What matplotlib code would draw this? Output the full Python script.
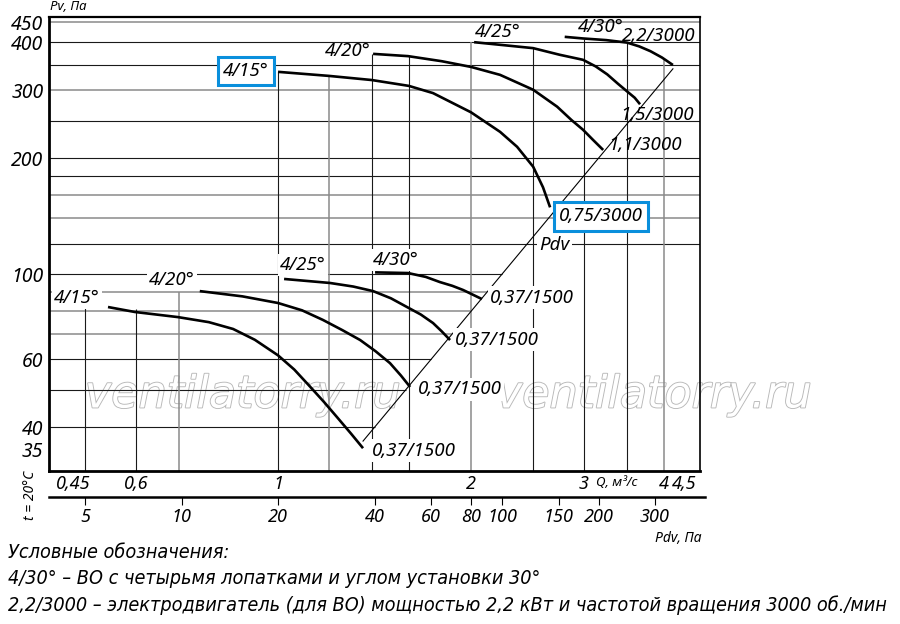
import numpy as np
import matplotlib
matplotlib.use('Agg')
import matplotlib.pyplot as plt
from matplotlib import patheffects as pe

# ---------------- data ----------------
angles = ['4/15°', '4/20°', '4/25°', '4/30°']
motors_3000 = ['0,75/3000', '1,1/3000', '1,5/3000', '2,2/3000']
motors_1500 = ['0,37/1500', '0,37/1500', '0,37/1500', '0,37/1500']

# 3000 rpm curves: Q [m3/s], Pv [Pa]
q_3000_15 = [1.00, 1.20, 1.40, 1.60, 1.745, 2.00, 2.22, 2.36, 2.50, 2.59, 2.657]
p_3000_15 = [335, 327, 319, 308, 295, 263, 234, 214, 190, 168, 149]
q_3000_20 = [1.407, 1.595, 1.80, 2.00, 2.22, 2.50, 2.725, 2.87, 2.99, 3.10, 3.215]
p_3000_20 = [373, 368, 357, 345, 329, 301, 272, 251, 237, 223, 210]
q_3000_25 = [2.022, 2.50, 2.75, 2.99, 3.13, 3.262, 3.39, 3.503, 3.60, 3.67]
p_3000_25 = [400, 386, 371, 360, 346, 330, 312, 298, 287, 276]
q_3000_30 = [2.80, 2.99, 3.25, 3.503, 3.66, 3.81, 3.97, 4.13]
p_3000_30 = [413, 409, 405, 399, 390, 379, 365, 349]

# 1500 rpm curves
q_1500_15 = [0.543, 0.598, 0.698, 0.78, 0.851, 0.92, 1.00, 1.06, 1.122, 1.18, 1.236, 1.30, 1.357]
p_1500_15 = [82.1, 79.7, 77.3, 75.0, 72.0, 67.5, 61.5, 56.5, 51.0, 46.5, 42.5, 38.5, 35.3]
q_1500_20 = [0.755, 0.88, 1.00, 1.09, 1.175, 1.26, 1.343, 1.42, 1.495, 1.555, 1.607]
p_1500_20 = [90.3, 87.5, 84.1, 80.5, 76.0, 71.5, 67.4, 63.0, 58.7, 54.5, 50.9]
q_1500_25 = [1.022, 1.205, 1.31, 1.407, 1.50, 1.589, 1.67, 1.745, 1.80, 1.855]
p_1500_25 = [97.1, 94.8, 92.8, 90.3, 86.5, 82.1, 78.5, 74.6, 71.0, 67.4]
q_1500_30 = [1.417, 1.595, 1.70, 1.789, 1.87, 1.944, 2.01, 2.08]
p_1500_30 = [101, 100.6, 98.3, 95.3, 93.2, 90.9, 88.5, 86.1]

PDV_COEF = 20  # Pdv = 20 * Q^2

y_ticks = [35, 40, 60, 100, 200, 300, 400, 450]
q_ticks = [0.45, 0.6, 1, 2, 3, 4, 4.5]
q_tick_labels = ['0,45', '0,6', '1', '2', '3', '4', '4,5']
pdv_ticks = [5, 10, 20, 40, 60, 80, 100, 150, 200, 300]

h_grid_full = [120, 140, 160, 180, 200, 250, 300, 350, 400, 450]
h_grid_full_gray = [False, True, True, False, False, False, True, False, False, True]
h_grid_low = [40, 50, 60, 70, 80, 90, 100]
h_grid_low_gray = [False, False, False, True, True, True, False]
v_grid_up = [1.0, 1.2, 1.4, 1.6, 2.0, 2.5, 3.0, 3.5, 4.0]
v_grid_up_gray = [False, True, False, False, True, False, False, False, True]
v_grid_low = [0.5, 0.6, 0.7]
v_grid_low_top = [86, 81, 90]
v_grid_low_gray = [False, False, True]

legend_lines = ['Условные обозначения:',
                '4/30° – ВО с четырьмя лопатками и углом установки 30°',
                '2,2/3000 – электродвигатель (для ВО) мощностью 2,2 кВт и частотой вращения 3000 об./мин']

# ---------------- layout ----------------
W, H = 900, 624
fig = plt.figure(figsize=(W / 100, H / 100), dpi=100)
FONT = ['Noto Sans', 'DejaVu Sans']
plt.rcParams['font.family'] = FONT

def fx(px):
    return px / W

def fy(py):
    return 1 - py / H

L, R, T, B = 49, 700, 17, 471
ax = fig.add_axes([fx(L), fy(B), fx(R - L), (B - T) / H])
ax.set_xscale('log')
ax.set_yscale('log')
xmin, xmax = 0.4393, 4.552
ymin, ymax = 30.8, 465
ax.set_xlim(xmin, xmax)
ax.set_ylim(ymin, ymax)
ax.minorticks_off()

for s, lw in [('left', 2.0), ('bottom', 2.0), ('top', 1.6), ('right', 1.2)]:
    ax.spines[s].set_linewidth(lw)
    ax.spines[s].set_color('black')

ax.set_yticks(y_ticks)
ax.set_yticklabels([str(v) for v in y_ticks], fontstyle='italic', fontsize=14)
ax.set_xticks(q_ticks)
ax.set_xticklabels(q_tick_labels, fontstyle='italic', fontsize=13)
ax.tick_params(axis='both', length=0)
ax.tick_params(axis='y', pad=4)
ax.tick_params(axis='x', pad=3)
xl = ax.get_xticklabels()
xl[0].set_horizontalalignment('left')
xl[-1].set_horizontalalignment('right')

DARK, GRAY = '#1a1a1a', '#8a8a8a'
GLW = 0.8

def gstyle(g):
    return dict(color=GRAY if g else DARK, lw=GLW + (0.3 if g else 0), zorder=1)

# grid
for p, g in zip(h_grid_full, h_grid_full_gray):
    ax.hlines(p, xmin, xmax, **gstyle(g))
for p, g in zip(h_grid_low, h_grid_low_gray):
    ax.hlines(p, xmin, np.sqrt(p / PDV_COEF), **gstyle(g))

upper = [(q_3000_15, p_3000_15), (q_3000_20, p_3000_20),
         (q_3000_25, p_3000_25), (q_3000_30, p_3000_30)]
lower = [(q_1500_15, p_1500_15), (q_1500_20, p_1500_20),
         (q_1500_25, p_1500_25), (q_1500_30, p_1500_30)]

def envelope_top(q, curves):
    best = None
    for qs, ps in curves:
        if qs[0] * 0.98 <= q <= qs[-1] * 1.02:
            v = np.interp(np.log(q), np.log(qs), ps)
            best = v if best is None else max(best, v)
    return best if best is not None else ymax

for q, g in zip(v_grid_up, v_grid_up_gray):
    ax.vlines(q, ymin, envelope_top(q, upper), **gstyle(g))
for q, top, g in zip(v_grid_low, v_grid_low_top, v_grid_low_gray):
    ax.vlines(q, ymin, top, **gstyle(g))

# watermark (under the grid)
for cx in (243, 654):
    ax.text(fx(cx), fy(395), 'ventilatorry.ru', transform=fig.transFigure,
            ha='center', va='center', fontsize=32, fontstyle='italic',
            family='DejaVu Sans', color='white', zorder=0.5,
            path_effects=[pe.Stroke(linewidth=1.3, foreground='#b8b8b8'), pe.Normal()])

# Pdv line
q_lo = min(c[0][-1] for c in lower)
q_hi = max(c[0][-1] for c in upper)
qq = np.geomspace(q_lo, q_hi, 60)
ax.plot(qq, PDV_COEF * qq ** 2, color='black', lw=0.8, zorder=2.5)

# curves
for qs, ps in upper + lower:
    ax.plot(qs, ps, color='black', lw=1.9, zorder=3, solid_capstyle='butt',
            solid_joinstyle='round')

BLUE = '#0a8fdc'
LBL = dict(fontsize=13.5, fontstyle='italic', zorder=4, textcoords='offset pixels',
           va='center')
white_box = dict(boxstyle='square,pad=0.12', fc='white', ec='none')
blue_box = dict(boxstyle='square,pad=0.28', fc='white', ec=BLUE, lw=2.2)

# upper start labels
up_start_off = [(-9, 1, 'right'), (-2, 2.5, 'right'), (1, 10.5, 'left'), (13, 9.5, 'left')]
for i, ((qs, ps), (dx, dy, ha)) in enumerate(zip(upper, up_start_off)):
    ax.annotate(angles[i], (qs[0], ps[0]), xytext=(dx, dy), ha=ha,
                bbox=blue_box if i == 0 else None, **LBL)
# upper end labels
up_end_off = [(9, -9), (5, 4.5), (-20, -10.5), (-51, 28.5)]
for i, ((qs, ps), (dx, dy)) in enumerate(zip(upper, up_end_off)):
    ax.annotate(motors_3000[i], (qs[-1], ps[-1]), xytext=(dx, dy), ha='left',
                bbox=blue_box if i == 0 else None, **LBL)
# lower start labels
lo_start_off = [(-8, 9.5, 'right'), (-5, 11.5, 'right'), (-4, 14, 'left'), (-2, 12.5, 'left')]
for i, ((qs, ps), (dx, dy, ha)) in enumerate(zip(lower, lo_start_off)):
    ax.annotate(angles[i], (qs[0], ps[0]), xytext=(dx, dy), ha=ha, bbox=white_box, **LBL)
# lower end labels
lo_end_off = [(9, -2.5), (8, -2.5), (5, 0.5), (8, 1.5)]
for i, ((qs, ps), (dx, dy)) in enumerate(zip(lower, lo_end_off)):
    ax.annotate(motors_1500[i], (qs[-1], ps[-1]), xytext=(dx, dy), ha='left',
                bbox=white_box, **LBL)

# Pdv label
ax.text(2.7, 119, 'Pdv', fontsize=13.5, fontstyle='italic', ha='center', va='center',
        zorder=4, bbox=white_box)

# ---------------- Pdv scale ----------------
dec = np.log10(xmax / xmin)
q_ext = xmax * 10 ** (dec * 5 / (R - L))
ax2 = fig.add_axes([fx(L), fy(497), fx(R + 5 - L), 1e-4])
ax2.set_xscale('log')
ax2.set_xlim(PDV_COEF * xmin ** 2, PDV_COEF * q_ext ** 2)
ax2.patch.set_alpha(0)
for s in ('left', 'right', 'top'):
    ax2.spines[s].set_visible(False)
ax2.spines['bottom'].set_linewidth(1.8)
ax2.set_yticks([])
ax2.minorticks_off()
ax2.set_xticks(pdv_ticks)
ax2.set_xticklabels([str(v) for v in pdv_ticks], fontstyle='italic', fontsize=13)
ax2.tick_params(axis='x', direction='out', length=6, width=0.8, pad=2)

# ---------------- texts ----------------
fig.text(fx(50), fy(7), 'Pv, Па', fontsize=9.5, fontstyle='italic', ha='left', va='center')
fig.text(fx(617), fy(482), 'Q, м³/с', fontsize=9.5, fontstyle='italic', ha='center', va='center')
fig.text(fx(702), fy(539), 'Pdv, Па', fontsize=10, fontstyle='italic', ha='right', va='center')
fig.text(fx(30), fy(495), 't = 20°C', fontsize=10, fontstyle='italic', ha='center',
         va='center', rotation=90)

leg_texts = []
for txt, yy in zip(legend_lines, (553, 578, 605)):
    leg_texts.append(fig.text(fx(8), fy(yy), txt, fontsize=15, fontstyle='italic',
                              family=['DejaVu Sans'], fontstretch='condensed',
                              ha='left', va='center'))
# fit the longest legend line to the width it spans in the reference (8..893 px)
renderer = fig.canvas.get_renderer()
wpx = leg_texts[-1].get_window_extent(renderer).width
size = min(15, 15 * 885 / wpx)
for t in leg_texts:
    t.set_fontsize(size)

fig.savefig('out.png', dpi=100, facecolor='white')
